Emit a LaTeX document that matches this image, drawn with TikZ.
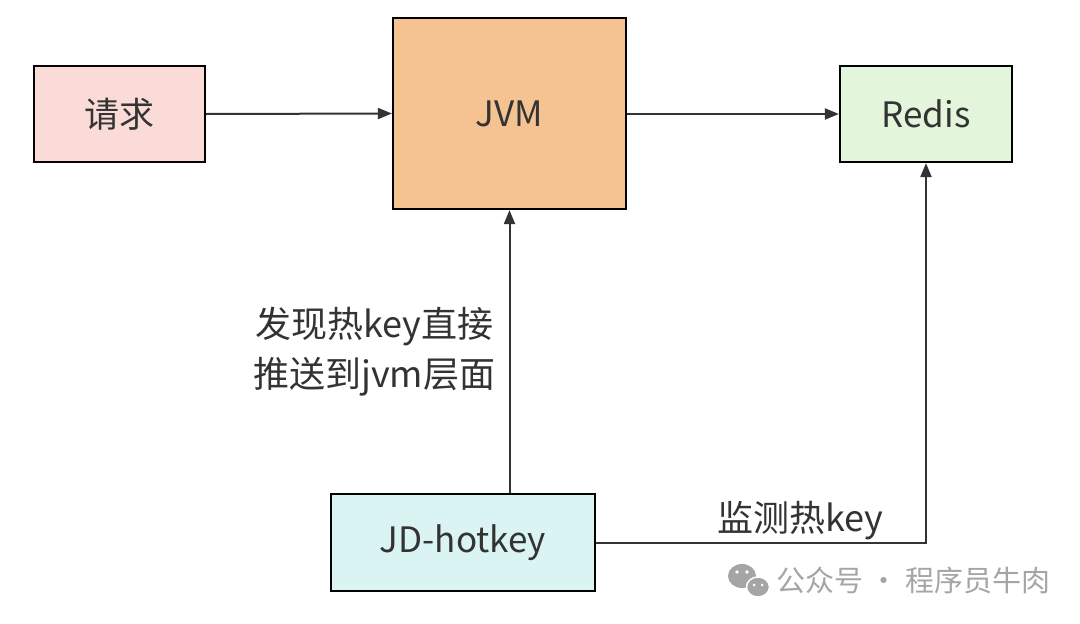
\documentclass[tikz,border=0pt]{standalone}
\usepackage{fontspec}
\setmainfont{Noto Sans CJK SC}
\usetikzlibrary{arrows.meta}
\definecolor{reqpink}{RGB}{250,219,216}
\definecolor{jvmorange}{RGB}{245,194,146}
\definecolor{redisgreen}{RGB}{227,245,218}
\definecolor{hotcyan}{RGB}{218,244,243}
\definecolor{txtgray}{RGB}{51,51,51}
\definecolor{markgray}{RGB}{165,165,165}

\begin{document}
\begin{tikzpicture}[x=1pt,y=-1pt,
 box/.style={draw=black,rectangle,line width=2.2pt,align=center,text=txtgray,font=\fontsize{35}{40}\selectfont},
 flow/.style={-{Triangle[length=14pt,width=11pt]},draw=txtgray,line width=2pt},
 label/.style={text=txtgray,align=center,font=\fontsize{36}{50}\selectfont}]
\useasboundingbox (0,0) rectangle (1080,624);
\node[box,fill=reqpink,minimum width=171pt,minimum height=96pt] (req) at (119.5,114) {请求};
\node[box,fill=jvmorange,minimum width=233pt,minimum height=191pt] (jvm) at (509.5,113.5) {JVM};
\node[box,fill=redisgreen,minimum width=172pt,minimum height=96pt] (redis) at (926,114) {Redis};
\node[box,fill=hotcyan,minimum width=264pt,minimum height=97pt] (hotkey) at (463,542.5) {JD-hotkey};
\draw[flow] (req.east) -- (jvm.west);
\draw[flow] (jvm.east |- req.east) -- (redis.west);
\draw[flow] (jvm.south |- hotkey.north) -- node[label,left=10pt]{发现热key直接\\推送到jvm层面} (jvm.south);
\draw[flow] (hotkey.east) -| node[label,above,pos=0.31,yshift=-2pt]{监测热key} (redis.south);
% watermark
\fill[markgray] (742,576) ellipse (14pt and 12pt);
\fill[markgray,draw=white,line width=1.5pt] (758,587) ellipse (11.5pt and 10pt);
\fill[white] (737,572) circle (1.8pt) (747,572) circle (1.8pt) (754,585) circle (1.5pt) (762,585) circle (1.5pt);
\node[text=markgray,font=\fontsize{29}{34}\selectfont,anchor=west,inner sep=0pt] (mark) at (776,580) {公众号 · 程序员牛肉};
\end{tikzpicture}
\end{document}
